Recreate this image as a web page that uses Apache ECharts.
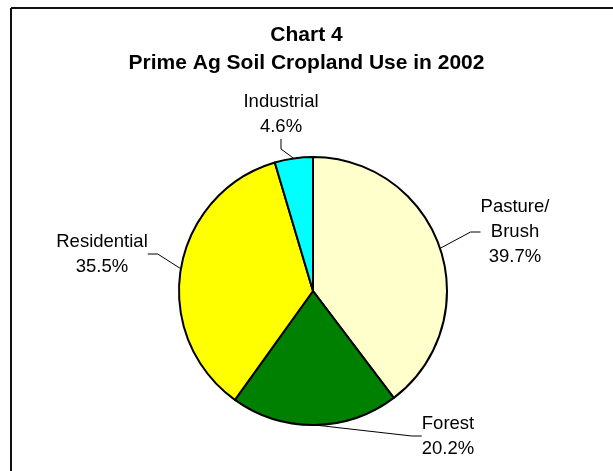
<!DOCTYPE html>
<html>
<head>
<meta charset="utf-8">
<script src="https://cdn.jsdelivr.net/npm/echarts@6/dist/echarts.min.js"></script>
<style>
html,body{margin:0;padding:0;background:#fff;}
#chart{width:613px;height:471px;}
</style>
</head>
<body>
<div id="chart"></div>
<script>
// Data
var categories = ['Pasture/\nBrush', 'Forest', 'Residential', 'Industrial'];
var values = [39.7, 20.2, 35.5, 4.6];
var colors = ['#FFFFCC', '#008000', '#FFFF00', '#00FFFF'];
var titleLines = ['Chart 4', 'Prime Ag Soil Cropland Use in 2002'];

// Label placement (layout config, label centers)
var labelSpots = [[515, 232], [448, 436], [102, 254], [281, 114]];

var chart = echarts.init(document.getElementById('chart'), null, {renderer: 'canvas'});
var FONT = '"Liberation Sans", Arial, Helvetica, sans-serif';

var option = {
  animation: false,
  backgroundColor: '#ffffff',
  title: {
    text: titleLines.join('\n'),
    left: 'center',
    top: 21,
    padding: 0,
    textStyle: {fontFamily: FONT, fontSize: 21, fontWeight: 'bold', color: '#000', lineHeight: 28}
  },
  graphic: [
    {type: 'line', shape: {x1: 11, y1: 8, x2: 613, y2: 8}, style: {stroke: '#111', lineWidth: 2}},
    {type: 'line', shape: {x1: 11, y1: 8, x2: 11, y2: 471}, style: {stroke: '#111', lineWidth: 2}}
  ],
  series: [{
    type: 'pie',
    center: [313, 291],
    radius: 134,
    startAngle: 90,
    clockwise: true,
    percentPrecision: 1,
    data: categories.map(function (c, i) {
      return {name: c, value: values[i], itemStyle: {color: colors[i]}};
    }),
    itemStyle: {borderColor: '#000', borderWidth: 2},
    emphasis: {disabled: true},
    label: {
      show: true,
      position: 'outside',
      formatter: '{b}\n{d}%',
      fontFamily: FONT,
      fontSize: 18.5,
      lineHeight: 25,
      color: '#000',
      align: 'center'
    },
    labelLine: {
      show: true,
      length: 12,
      length2: 10,
      smooth: false,
      lineStyle: {color: '#000', width: 1}
    },
    labelLayout: function (p) {
      var s = labelSpots[p.dataIndex];
      return {x: s[0], y: s[1], align: 'center', verticalAlign: 'middle'};
    }
  }]
};
chart.setOption(option);
</script>
</body>
</html>
